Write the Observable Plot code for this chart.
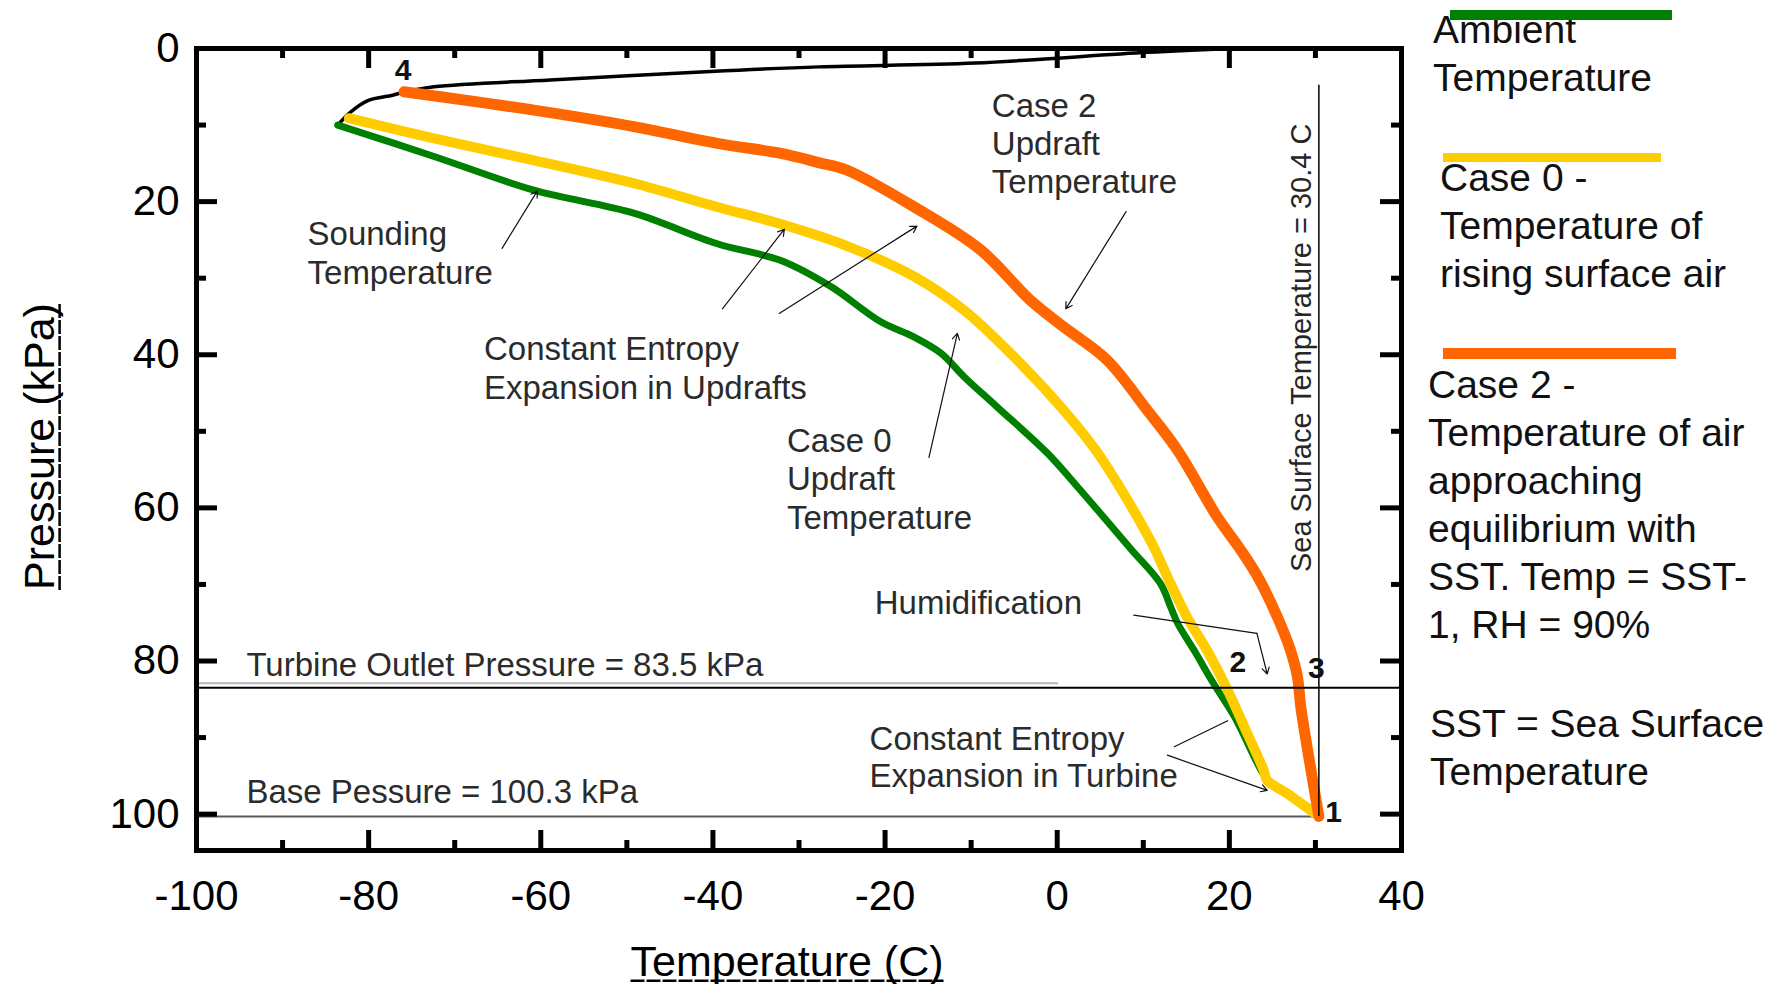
<!DOCTYPE html>
<html><head><meta charset="utf-8">
<script src="https://cdn.jsdelivr.net/npm/d3@7"></script>
<script src="https://cdn.jsdelivr.net/npm/@observablehq/plot@0.6"></script>
<style>
html,body{margin:0;padding:0;background:#fff;}
#wrap{position:relative;width:1787px;height:984px;overflow:hidden;font-family:"Liberation Sans",Arial,sans-serif;}
.leg{position:absolute;font-size:39px;line-height:48px;color:#111;white-space:nowrap;}
.sw{position:absolute;}
</style></head><body><div id="wrap"></div>
<script>
// ---- axis ticks ----
const xLabels = [-100,-80,-60,-40,-20,0,20,40];
const xMajor = [-80,-60,-40,-20,0,20];
const xMinor = [-90,-70,-50,-30,-10,10,30];
const yLabels = [0,20,40,60,80,100];
const yMajor = [20,40,60,80,100];
const yMinor = [10,30,50,70,90];

// ---- reference values ----
const sst = 30.4;              // Sea surface temperature, C
const basePressure = 100.3;    // kPa
const turbinePressure = 83.5;  // kPa
const sstLineTop = 4.8;        // kPa where the SST marker line starts
const turbineShadow = [[-100, 82.9], [0, 82.9]];

// ---- series: [temperature C, pressure kPa] ----
const upperSounding = [[-83.6,10.0],[-82.0,8.2],[-80.1,6.8],[-77.2,6.1],[-75.9,5.7],[-72.4,5.0],[-58.9,4.1],[-40.3,3.0],[-27.7,2.4],[-9.5,1.9],[10.5,0.5],[20.5,0]];
const ambient = [[-83.6,10.0],[-72.4,14.1],[-60.8,18.5],[-49.2,21.5],[-39.5,25.5],[-32.1,27.7],[-26.3,31.1],[-20.5,35.7],[-16.6,37.7],[-13.5,39.8],[-10.8,42.9],[-7.0,46.8],[-1.1,52.9],[2.7,57.7],[8.5,65.3],[12.0,69.9],[13.2,73.0],[14.0,75.1],[15.9,78.6],[18.2,83.0],[20.6,87.3],[23.7,94.3],[24.5,95.6]];
const case0 = [[-82.3,9.1],[-72.4,11.75],[-60.8,14.6],[-49.2,17.6],[-39.5,20.7],[-32.5,22.8],[-24.4,25.8],[-16.6,29.8],[-10.8,34.2],[-5.0,40.3],[0.8,47.3],[4.5,52.5],[8.7,60.0],[11.3,65.3],[12.8,69.0],[15.1,74.3],[17.4,78.6],[19.8,83.8],[22.1,89.5],[24.0,94.3],[24.4,95.6],[26.7,97.3],[30.4,100.3]];
const case2 = [[-75.9,5.65],[-60.8,8.05],[-49.2,10.2],[-39.5,12.4],[-32.1,13.7],[-27.7,14.9],[-24.4,15.9],[-16.6,20.7],[-8.9,26.3],[-3.1,32.9],[0.8,36.4],[5.8,40.7],[10.5,47.3],[14.0,52.5],[18.6,61.2],[21.2,65.3],[23.3,69.0],[25.6,74.3],[27.1,78.6],[27.9,82.0],[28.3,86.0],[29.1,91.7],[30.4,100.3]];

// ---- annotations (x = C, y = kPa at text baseline) ----
const noteText = ["Case 2","Updraft","Temperature","Sounding","Temperature","Constant Entropy","Expansion in Updrafts","Case 0","Updraft","Temperature","Humidification","Turbine Outlet Pressure = 83.5 kPa","Constant Entropy","Expansion in Turbine","Base Pessure = 100.3 kPa"];
const noteX = [-7.6,-7.6,-7.6,-87.1,-87.1,-66.6,-66.6,-31.4,-31.4,-31.4,-21.2,-94.2,-21.8,-21.8,-94.2];
const noteY = [8.9,13.9,18.9,25.7,30.7,40.7,45.8,52.7,57.7,62.7,73.8,81.9,91.6,96.5,98.5];
const pointText = ["1","2","3","4"];
const pointX = [32.1,21.0,30.1,-76.0];
const pointY = [99.8,80.2,80.9,2.9];
const arrowFrom = [[-64.5,26.1],[-38.9,34.0],[-32.3,34.6],[8.0,21.3],[-14.9,53.4],[23.2,76.4],[12.8,92.3]];
const arrowTo   = [[-60.4,18.6],[-31.7,23.6],[-16.3,23.2],[1.0,34.0],[-11.6,37.2],[24.4,81.7],[24.4,96.9]];
const leaderLines = [[[8.9,74.0],[23.2,76.4]],[[13.6,91.2],[19.8,87.8]]];

// ---- axis titles ----
const xTitle = "Temperature (C)";
const yTitle = "Pressure (kPa)";

// ---- legend ----
const legendColors = ["#008000","#FFCC00","#FF6600"];
const legendLabels = [["Ambient","Temperature"],["Case 0 -","Temperature of","rising surface air"],["Case 2 -","Temperature of air","approaching","equilibrium with","SST. Temp = SST-","1, RH = 90%"]];
const footnote = ["SST = Sea Surface","Temperature"];

const W=1787,H=984,mL=196,mR=386,mT=48,mB=134;
const iw=W-mL-mR, ih=H-mT-mB;
const T=d=>d[0], P=d=>d[1];
const notes = noteText.map((t,i)=>({t,x:noteX[i],y:noteY[i]}));
const pts = pointText.map((t,i)=>({t,x:pointX[i],y:pointY[i]}));
const arrows = arrowFrom.map((f,i)=>({x1:f[0],y1:f[1],x2:arrowTo[i][0],y2:arrowTo[i][1]}));
const leaders = leaderLines.flatMap((seg,i)=>seg.map(p=>({x:p[0],y:p[1],k:i})));
const tk = {stroke:"black", strokeWidth:5};

const chart = Plot.plot({
  width:W, height:H, marginLeft:mL, marginRight:mR, marginTop:mT, marginBottom:mB,
  x:{domain:[-100,40]},
  y:{domain:[0,104.75], reverse:true},
  style:{fontFamily:'"Liberation Sans", Arial, sans-serif', background:"white", color:"black"},
  marks:[
    Plot.ruleY([basePressure], {x1:-100, x2:sst, stroke:"#5a5a5a", strokeWidth:2}),
    Plot.line(upperSounding, {x:T, y:P, stroke:"black", strokeWidth:3.5, curve:"catmull-rom"}),
    Plot.line(ambient, {x:T, y:P, stroke:legendColors[0], strokeWidth:7, curve:"catmull-rom"}),
    Plot.line(case0, {x:T, y:P, stroke:legendColors[1], strokeWidth:10, curve:"catmull-rom"}),
    Plot.line(case2, {x:T, y:P, stroke:legendColors[2], strokeWidth:11, curve:"catmull-rom"}),
    Plot.line(turbineShadow, {x:T, y:P, stroke:"#b5b5b5", strokeWidth:2}),
    Plot.ruleY([turbinePressure], {stroke:"black", strokeWidth:2}),
    Plot.ruleX([sst], {y1:sstLineTop, y2:basePressure, stroke:"black", strokeWidth:1.5}),
    Plot.line(leaders, {x:"x", y:"y", z:"k", stroke:"#111", strokeWidth:1.2}),
    Plot.arrow(arrows, {x1:"x1", y1:"y1", x2:"x2", y2:"y2", stroke:"#111", strokeWidth:1.2, headLength:9}),
    Plot.text(notes, {x:"x", y:"y", text:"t", textAnchor:"start", lineAnchor:"bottom", fontSize:33, fill:"#2b2b2b"}),
    Plot.text(pts, {x:"x", y:"y", text:"t", fontSize:30, fontWeight:"bold", fill:"#111"}),
    Plot.text(["Sea Surface Temperature = 30.4 C"], {x:()=>28.4, y:()=>39.1, text:d=>d, rotate:-90, fontSize:29, fill:"#262626"}),
    // inward ticks on all four sides
    Plot.ruleX(xMajor, {...tk, insetTop:ih-20}),
    Plot.ruleX(xMinor, {...tk, insetTop:ih-10}),
    Plot.ruleX(xMajor, {...tk, insetBottom:ih-20}),
    Plot.ruleX(xMinor, {...tk, insetBottom:ih-10}),
    Plot.ruleY(yMajor, {...tk, insetRight:iw-21}),
    Plot.ruleY(yMinor, {...tk, insetRight:iw-10}),
    Plot.ruleY(yMajor, {...tk, insetLeft:iw-21}),
    Plot.ruleY(yMinor, {...tk, insetLeft:iw-10}),
    Plot.frame({stroke:"black", strokeWidth:5}),
    Plot.axisX(xLabels, {anchor:"bottom", tickSize:0, tickPadding:30, fontSize:42, label:null, tickFormat:d=>String(d)}),
    Plot.axisY(yLabels, {anchor:"left", tickSize:0, tickPadding:17, fontSize:42, label:null, tickFormat:d=>String(d)}),
    Plot.text([xTitle], {frameAnchor:"bottom", text:d=>d, dx:-12, dy:125, textAnchor:"middle", lineAnchor:"bottom", fontSize:43}),
    Plot.text([yTitle], {frameAnchor:"left", text:d=>d, dx:-156, dy:-3, textAnchor:"middle", lineAnchor:"middle", rotate:-90, fontSize:43})
  ]
});
const wrap = document.getElementById("wrap");
wrap.appendChild(chart);

// underline the axis titles
const NS="http://www.w3.org/2000/svg";
Array.from(chart.querySelectorAll("text")).filter(t=>t.textContent===xTitle||t.textContent===yTitle).forEach(t=>{
  const b=t.getBBox();
  const fs=43;
  const ln=document.createElementNS(NS,"line");
  const yy=b.y+b.height-0.085*fs;
  ln.setAttribute("x1",b.x); ln.setAttribute("x2",b.x+b.width);
  ln.setAttribute("y1",yy); ln.setAttribute("y2",yy);
  ln.setAttribute("stroke","black"); ln.setAttribute("stroke-width","2.5");
  ln.setAttribute("stroke-dasharray","14 2");
  const tr=t.getAttribute("transform");
  if (tr) ln.setAttribute("transform",tr);
  t.parentNode.appendChild(ln);
});

// legend overlay (HTML)
const blockLeft = [1433,1440,1428];
const blockBase = [43,191,398];
const swatch = [[1450,10,222,10],[1443,153,218,9],[1443,348,233,11]];
function addText(lines,left,base){
  const d=document.createElement("div");
  d.className="leg"; d.style.left=left+"px"; d.style.top=(base-37.5)+"px";
  d.innerHTML=lines.map(s=>s.replace(/&/g,"&amp;")).join("<br>");
  wrap.appendChild(d);
}
legendLabels.forEach((lines,i)=>{
  addText(lines,blockLeft[i],blockBase[i]);
  const s=document.createElement("div"); s.className="sw";
  const [l,t,w,h]=swatch[i];
  Object.assign(s.style,{left:l+"px",top:t+"px",width:w+"px",height:h+"px",background:legendColors[i]});
  wrap.appendChild(s);
});
addText(footnote,1430,737);
</script></body></html>
